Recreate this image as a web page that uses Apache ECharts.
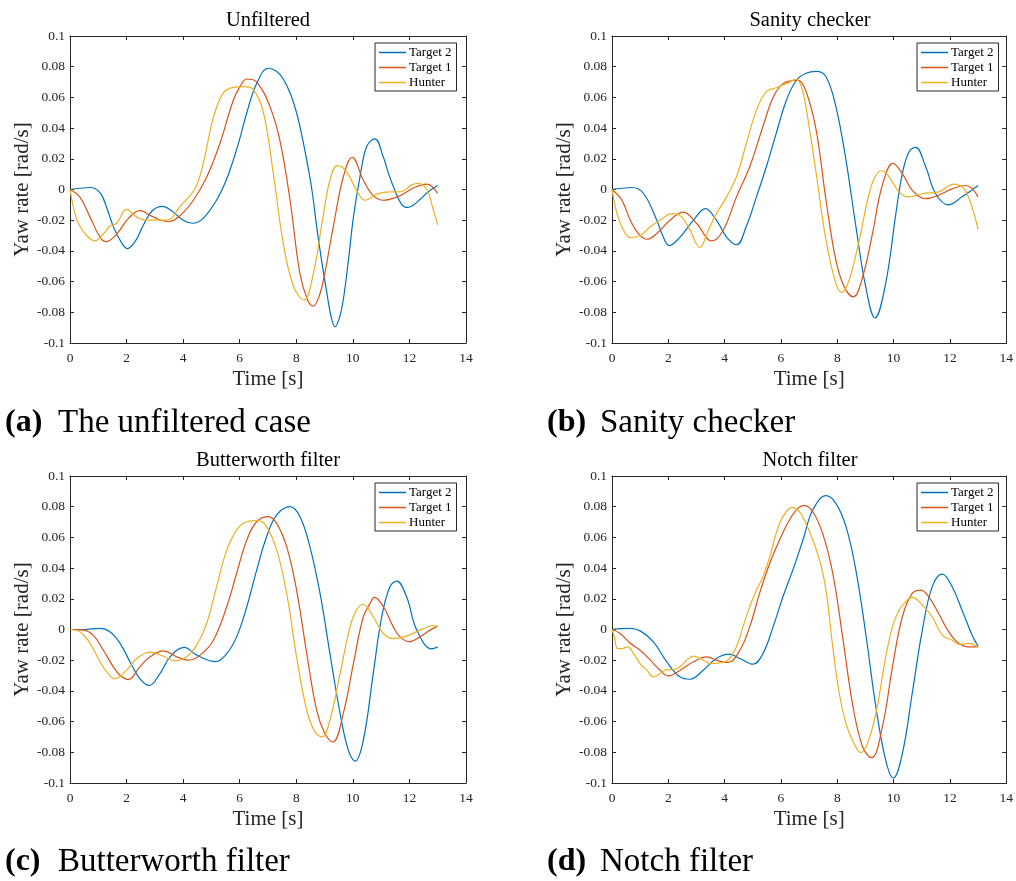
<!DOCTYPE html>
<html>
<head>
<meta charset="utf-8">
<script src="https://cdn.jsdelivr.net/npm/echarts@6/dist/echarts.min.js"></script>
<style>
  html, body { margin: 0; padding: 0; background: #fff; }
  #chart { width: 1016px; height: 881px; }
</style>
</head>
<body>
<div id="chart"></div>
<script>
// Yaw rate traces [time s, yaw rate rad/s] for each filtering method
const seriesNames = ['Target 2', 'Target 1', 'Hunter'];
const panelTitles = ['Unfiltered', 'Sanity checker', 'Butterworth filter', 'Notch filter'];
const captionTags = ['(a)', '(b)', '(c)', '(d)'];
const captionTexts = ['The unfiltered case', 'Sanity checker', 'Butterworth filter', 'Notch filter'];
const xTickLabels = ['0', '2', '4', '6', '8', '10', '12', '14'];
const yTickLabels = ['-0.1', '-0.08', '-0.06', '-0.04', '-0.02', '0', '0.02', '0.04', '0.06', '0.08', '0.1'];

// (a) unfiltered
const unfilteredTarget2 = [[0,0],[0.35,0.0008],[0.7,0.0013],[1.06,-0.002],[1.3,-0.012],[1.55,-0.025],[1.8,-0.034],[2.03,-0.0385],[2.3,-0.034],[2.6,-0.023],[2.9,-0.014],[3.26,-0.011],[3.6,-0.014],[4.0,-0.02],[4.34,-0.022],[4.7,-0.019],[5.18,-0.007],[5.5,0.005],[5.77,0.019],[6.0,0.033],[6.25,0.05],[6.6,0.069],[7.01,0.079],[7.3,0.077],[7.54,0.072],[7.8,0.062],[8.01,0.05],[8.2,0.035],[8.37,0.019],[8.55,0.0],[8.72,-0.024],[8.9,-0.047],[9.07,-0.066],[9.22,-0.082],[9.37,-0.0895],[9.52,-0.084],[9.66,-0.072],[9.85,-0.045],[10.02,-0.018],[10.25,0.008],[10.49,0.028],[10.78,0.033],[11.08,0.021],[11.25,0.011],[11.43,0.002],[11.7,-0.009],[11.93,-0.0117],[12.15,-0.01],[12.37,-0.0065],[12.7,-0.001],[13.0,0.0026]];
const unfilteredTarget1 = [[0,0],[0.35,-0.005],[0.71,-0.018],[1.06,-0.031],[1.27,-0.034],[1.65,-0.029],[2.06,-0.019],[2.47,-0.0137],[2.95,-0.018],[3.48,-0.021],[3.89,-0.017],[4.36,-0.007],[4.83,0.008],[5.3,0.03],[5.77,0.058],[6.01,0.067],[6.25,0.072],[6.6,0.07],[7.07,0.054],[7.42,0.032],[7.78,-0.007],[8.13,-0.055],[8.4,-0.072],[8.6,-0.076],[8.78,-0.071],[8.96,-0.059],[9.31,-0.024],[9.66,0.008],[9.98,0.021],[10.37,0.006],[10.72,-0.004],[11.08,-0.007],[11.67,-0.004],[12.14,0.001],[12.61,0.0035],[12.8,0.002],[13.0,-0.0026]];
const unfilteredHunter = [[0,0],[0.18,-0.016],[0.35,-0.024],[0.59,-0.03],[0.88,-0.0335],[1.18,-0.029],[1.41,-0.024],[1.65,-0.022],[2.0,-0.013],[2.36,-0.018],[2.71,-0.02],[3.42,-0.02],[3.89,-0.011],[4.42,0.0007],[4.71,0.017],[5.07,0.047],[5.42,0.063],[5.77,0.0665],[6.13,0.067],[6.48,0.065],[6.84,0.05],[7.19,0.01],[7.54,-0.035],[7.9,-0.063],[8.27,-0.072],[8.6,-0.055],[8.96,-0.016],[9.19,0.006],[9.45,0.0155],[9.78,0.0115],[10.13,-0.0004],[10.43,-0.007],[10.84,-0.003],[11.31,-0.0015],[11.67,-0.0015],[12.08,0.003],[12.31,0.004],[12.61,0],[12.85,-0.0135],[13.0,-0.023]];

// (b) sanity checker
const sanityTarget2 = [[0,0],[0.35,0.0008],[0.71,0.0013],[1.12,-0.0026],[1.59,-0.02],[1.8,-0.03],[2.03,-0.0365],[2.42,-0.031],[2.89,-0.02],[3.32,-0.0124],[3.71,-0.02],[4.07,-0.031],[4.42,-0.036],[4.77,-0.024],[5.13,-0.0048],[5.48,0.0148],[5.83,0.0365],[6.19,0.058],[6.54,0.071],[6.89,0.0757],[7.25,0.077],[7.6,0.0735],[7.95,0.054],[8.31,0.019],[8.66,-0.024],[9.01,-0.0635],[9.34,-0.0837],[9.72,-0.061],[10.08,-0.0157],[10.31,0.0104],[10.55,0.0246],[10.78,0.0274],[11.14,0.0148],[11.49,-0.0026],[11.94,-0.01],[12.43,-0.0048],[13.0,0.0026]];
const sanityTarget1 = [[0,0],[0.35,-0.007],[0.65,-0.02],[0.94,-0.0287],[1.24,-0.0324],[1.59,-0.0287],[2.06,-0.02],[2.53,-0.0148],[3.0,-0.022],[3.54,-0.0335],[3.95,-0.0265],[4.42,-0.0048],[4.89,0.0148],[5.36,0.041],[5.72,0.06],[6.07,0.069],[6.42,0.071],[6.6,0.0713],[6.89,0.064],[7.25,0.0387],[7.6,-0.007],[7.95,-0.046],[8.25,-0.0635],[8.57,-0.07],[8.9,-0.057],[9.25,-0.0287],[9.6,0.0028],[9.98,0.017],[10.31,0.0104],[10.66,-0.0004],[11.14,-0.006],[11.6,-0.0037],[12.08,0.0004],[12.55,0.0026],[12.78,0.0007],[13.0,-0.0048]];
const sanityHunter = [[0,0],[0.18,-0.0157],[0.41,-0.0265],[0.65,-0.0313],[1.0,-0.03],[1.36,-0.0243],[1.71,-0.02],[2.12,-0.0157],[2.47,-0.0178],[2.77,-0.0265],[3.12,-0.0378],[3.42,-0.0265],[3.71,-0.0157],[4.07,-0.0048],[4.42,0.0083],[4.77,0.03],[5.13,0.0517],[5.48,0.0637],[5.83,0.0663],[6.19,0.069],[6.54,0.0717],[6.77,0.064],[7.0,0.0409],[7.25,0.0104],[7.6,-0.033],[7.95,-0.061],[8.17,-0.0672],[8.42,-0.059],[8.78,-0.033],[9.13,-0.0026],[9.37,0.0093],[9.58,0.0122],[9.84,0.0083],[10.19,-0.0015],[10.55,-0.0048],[11.02,-0.0026],[11.6,-0.0015],[12.14,0.0035],[12.49,0.0007],[12.78,-0.0113],[13.0,-0.026]];

// (c) Butterworth filter
const butterTarget2 = [[0,0],[0.47,0],[1.06,0.0007],[1.41,-0.0015],[1.77,-0.009],[2.12,-0.021],[2.47,-0.032],[2.8,-0.0365],[3.18,-0.0287],[3.54,-0.0178],[4.04,-0.0117],[4.48,-0.0167],[5.15,-0.0209],[5.54,-0.0157],[5.89,-0.0048],[6.25,0.0148],[6.6,0.0387],[6.95,0.0604],[7.31,0.0746],[7.78,0.08],[8.13,0.0735],[8.48,0.054],[8.84,0.0235],[9.19,-0.0157],[9.55,-0.0548],[9.84,-0.0787],[10.08,-0.0857],[10.37,-0.0722],[10.72,-0.0287],[11.02,0.0083],[11.31,0.0278],[11.55,0.0315],[11.9,0.0213],[12.26,-0.0004],[12.79,-0.0126],[13.0,-0.0113]];
const butterTarget1 = [[0,0],[0.47,-0.0004],[0.82,-0.0037],[1.18,-0.0135],[1.53,-0.0243],[1.77,-0.0298],[2.06,-0.0326],[2.47,-0.0243],[2.83,-0.0178],[3.3,-0.0139],[3.77,-0.0178],[4.18,-0.02],[4.6,-0.0167],[5.07,-0.007],[5.54,0.0148],[5.89,0.0365],[6.25,0.0583],[6.6,0.0702],[7.01,0.0735],[7.31,0.069],[7.66,0.054],[8.01,0.0257],[8.37,-0.0157],[8.72,-0.0526],[9.01,-0.0678],[9.29,-0.0733],[9.66,-0.0548],[10.02,-0.0222],[10.37,0.0083],[10.61,0.017],[10.76,0.0209],[11.08,0.0148],[11.43,0.0017],[11.67,-0.0048],[12.0,-0.008],[12.37,-0.0048],[12.73,-0.0004],[13.0,0.0022]];
const butterHunter = [[0,0],[0.35,-0.0015],[0.71,-0.009],[1.06,-0.021],[1.3,-0.0276],[1.59,-0.032],[2.0,-0.0265],[2.36,-0.0189],[2.83,-0.0148],[3.3,-0.0174],[3.71,-0.0204],[4.12,-0.0178],[4.48,-0.0102],[4.83,0.0039],[5.18,0.0278],[5.54,0.0517],[5.89,0.0648],[6.25,0.0702],[6.66,0.0709],[6.95,0.067],[7.31,0.0517],[7.66,0.0235],[8.01,-0.0178],[8.37,-0.0526],[8.66,-0.0667],[8.91,-0.07],[9.19,-0.0591],[9.55,-0.0287],[9.9,0.0017],[10.13,0.0126],[10.37,0.0163],[10.72,0.0083],[11.08,-0.0026],[11.43,-0.0059],[11.9,-0.0043],[12.37,-0.0004],[12.85,0.0026],[13.0,0.0017]];

// (d) notch filter
const notchTarget2 = [[0,0],[0.65,0.0007],[1.0,-0.0009],[1.47,-0.008],[1.94,-0.021],[2.42,-0.031],[2.77,-0.0324],[3.24,-0.0265],[3.71,-0.0189],[4.16,-0.0161],[4.54,-0.0189],[5.01,-0.0226],[5.36,-0.0157],[5.72,0.0017],[6.07,0.0213],[6.42,0.0387],[6.78,0.0583],[7.13,0.0778],[7.6,0.0872],[7.95,0.0822],[8.31,0.067],[8.66,0.0387],[9.01,-0.0026],[9.37,-0.0504],[9.72,-0.0852],[9.99,-0.0967],[10.31,-0.0809],[10.66,-0.0417],[11.02,-0.0004],[11.37,0.0278],[11.73,0.0361],[12.08,0.0278],[12.43,0.0126],[12.79,-0.0037],[13.0,-0.0109]];
const notchTarget1 = [[0,0],[0.29,-0.0026],[0.65,-0.009],[1.0,-0.0135],[1.36,-0.02],[1.71,-0.0265],[2.0,-0.0302],[2.42,-0.0265],[2.89,-0.021],[3.36,-0.0178],[3.71,-0.02],[4.12,-0.0215],[4.54,-0.0135],[4.89,0.0017],[5.24,0.0235],[5.6,0.043],[5.95,0.0583],[6.3,0.0713],[6.6,0.0789],[6.83,0.0809],[7.13,0.0767],[7.48,0.0626],[7.84,0.0365],[8.19,-0.0048],[8.54,-0.0483],[8.9,-0.0765],[9.22,-0.0835],[9.6,-0.0635],[9.96,-0.0243],[10.31,0.0083],[10.66,0.0235],[10.96,0.0257],[11.25,0.0213],[11.6,0.0104],[11.96,-0.0015],[12.31,-0.009],[12.67,-0.0113],[13.0,-0.0113]];
const notchHunter = [[0,0],[0.08,-0.0048],[0.2,-0.0124],[0.35,-0.0124],[0.55,-0.0113],[0.77,-0.0157],[1.0,-0.0222],[1.24,-0.0265],[1.47,-0.0309],[1.71,-0.0287],[1.94,-0.0261],[2.18,-0.0261],[2.42,-0.0243],[2.65,-0.02],[2.89,-0.0174],[3.24,-0.02],[3.48,-0.0222],[3.83,-0.0217],[4.12,-0.02],[4.42,-0.0113],[4.65,0.0017],[4.89,0.0148],[5.13,0.0257],[5.36,0.0343],[5.6,0.0474],[5.83,0.0626],[6.07,0.0735],[6.4,0.0796],[6.66,0.0767],[6.89,0.069],[7.13,0.0583],[7.37,0.0452],[7.6,0.0257],[7.84,-0.0113],[8.07,-0.0417],[8.31,-0.0613],[8.54,-0.0722],[8.84,-0.0802],[9.07,-0.0743],[9.37,-0.0548],[9.72,-0.0178],[9.96,0.0017],[10.19,0.0126],[10.43,0.018],[10.66,0.0209],[11.02,0.0159],[11.37,0.0083],[11.73,-0.0037],[12.08,-0.007],[12.31,-0.0096],[12.67,-0.0091],[13.0,-0.0117]];

const panelData = [
  [unfilteredTarget2, unfilteredTarget1, unfilteredHunter],
  [sanityTarget2, sanityTarget1, sanityHunter],
  [butterTarget2, butterTarget1, butterHunter],
  [notchTarget2, notchTarget1, notchHunter]
];

// Layout of the four panels
const FONT = '"Liberation Serif", "Times New Roman", serif';
const AXIS_COLOR = '#262626';
const LINE_COLORS = ['#0072BD', '#D95319', '#EDB120'];
const PLOT_W = 396, PLOT_H = 307;
const panelPos = [
  { left: 70, top: 36 },
  { left: 612, top: 36 },
  { left: 70, top: 476 },
  { left: 612, top: 476 }
];

const xFmt = v => xTickLabels[Math.round(v / 2)];
const yFmt = v => yTickLabels[Math.round((v + 0.1) / 0.02)];

const grids = [], xAxes = [], yAxes = [], series = [], legends = [], graphics = [];

panelPos.forEach((p, i) => {
  grids.push({ left: p.left, top: p.top, width: PLOT_W, height: PLOT_H, show: false });

  const tick = { show: true, inside: true, length: 4, lineStyle: { color: AXIS_COLOR, width: 1 } };
  const line = { show: true, onZero: false, lineStyle: { color: AXIS_COLOR, width: 1 } };

  // bottom + top x axes
  xAxes.push({
    type: 'value', gridIndex: i, position: 'bottom', min: 0, max: 14, interval: 2,
    axisLine: line, axisTick: tick, splitLine: { show: false },
    axisLabel: { formatter: xFmt, fontFamily: FONT, fontSize: 13.5, color: AXIS_COLOR, margin: 8 },
    name: 'Time [s]', nameLocation: 'middle', nameGap: 26,
    nameTextStyle: { fontFamily: FONT, fontSize: 21, color: AXIS_COLOR }
  });
  xAxes.push({
    type: 'value', gridIndex: i, position: 'top', min: 0, max: 14, interval: 2,
    axisLine: line, axisTick: tick, splitLine: { show: false }, axisLabel: { show: false }
  });

  // left + right y axes
  yAxes.push({
    type: 'value', gridIndex: i, position: 'left', min: -0.1, max: 0.1, interval: 0.02,
    axisLine: line, axisTick: tick, splitLine: { show: false },
    axisLabel: { formatter: yFmt, fontFamily: FONT, fontSize: 13.5, color: AXIS_COLOR, margin: 5 },
    name: 'Yaw rate [rad/s]', nameLocation: 'middle', nameGap: 36, nameRotate: 90,
    nameTextStyle: { fontFamily: FONT, fontSize: 21, color: AXIS_COLOR }
  });
  yAxes.push({
    type: 'value', gridIndex: i, position: 'right', min: -0.1, max: 0.1, interval: 0.02,
    axisLine: line, axisTick: tick, splitLine: { show: false }, axisLabel: { show: false }
  });

  panelData[i].forEach((d, k) => {
    series.push({
      name: seriesNames[k], type: 'line', xAxisIndex: 2 * i, yAxisIndex: 2 * i,
      data: d, smooth: 0.4, symbol: 'none', silent: true,
      lineStyle: { color: LINE_COLORS[k], width: 1.2 },
      itemStyle: { color: LINE_COLORS[k] },
      z: 2 + k
    });
  });

  legends.push({
    data: seriesNames, orient: 'vertical',
    left: p.left + 305, top: p.top + 7,
    icon: 'rect', itemWidth: 27, itemHeight: 1.5, itemGap: 2,
    padding: [3, 5, 2, 4],
    backgroundColor: '#fff', borderColor: AXIS_COLOR, borderWidth: 1,
    selectedMode: false,
    textStyle: { fontFamily: FONT, fontSize: 13, color: '#000', lineHeight: 12, padding: [0, 0, 0, -2] }
  });

  // panel title
  graphics.push({
    type: 'text', x: p.left + PLOT_W / 2, y: p.top - 15,
    style: { text: panelTitles[i], font: '20.5px ' + FONT, fill: '#000', textAlign: 'center', textVerticalAlign: 'middle' }
  });

  // subfigure caption
  const capX = i % 2 === 0 ? 5 : 547;
  const capY = i < 2 ? 423 : 862;
  graphics.push({
    type: 'text', x: capX, y: capY,
    style: { text: captionTags[i], font: 'bold 32px ' + FONT, fill: '#000', textAlign: 'left', textVerticalAlign: 'middle' }
  });
  graphics.push({
    type: 'text', x: capX + 53, y: capY,
    style: { text: captionTexts[i], font: '33px ' + FONT, fill: '#000', textAlign: 'left', textVerticalAlign: 'middle' }
  });
});

const chart = echarts.init(document.getElementById('chart'), null, { renderer: 'canvas' });
chart.setOption({
  animation: false,
  backgroundColor: '#fff',
  grid: grids,
  xAxis: xAxes,
  yAxis: yAxes,
  legend: legends,
  series: series,
  graphic: graphics
});
</script>
</body>
</html>
